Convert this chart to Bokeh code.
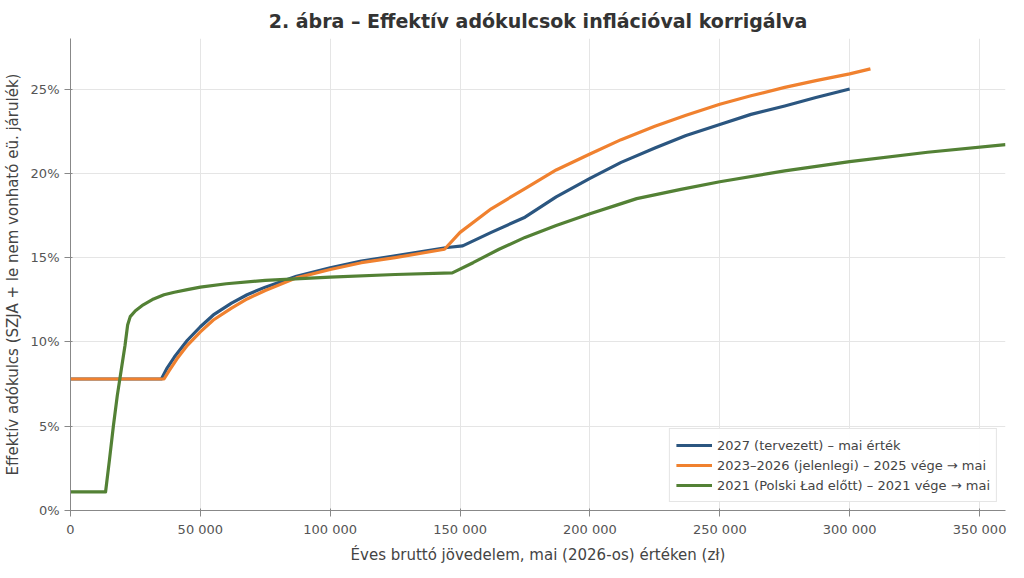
from bokeh.plotting import figure
from bokeh.models import CustomJSTickFormatter, Legend, FixedTicker
from bokeh.embed import file_html
from bokeh.resources import INLINE

blue_x = [0, 35000, 37000, 40000, 45000, 50000, 55000, 62000, 68000, 75000, 87000, 100000, 112000, 125000, 145000, 151000, 162000, 175000, 187000, 200000, 212000, 225000, 237000, 250000, 262000, 275000, 287000, 300000]
blue_y = [7.8, 7.8, 8.4, 9.1, 10.1, 10.9, 11.6, 12.3, 12.8, 13.25, 13.9, 14.4, 14.8, 15.1, 15.6, 15.7, 16.5, 17.4, 18.6, 19.7, 20.65, 21.5, 22.25, 22.9, 23.5, 24.0, 24.5, 25.0]
orange_x = [0, 36000, 38000, 41000, 45000, 50000, 55000, 62000, 68000, 75000, 87000, 100000, 112000, 125000, 144000, 150000, 162000, 175000, 187000, 200000, 212000, 225000, 237000, 250000, 262000, 275000, 287000, 300000, 308000]
orange_y = [7.8, 7.8, 8.3, 9.0, 9.8, 10.6, 11.3, 12.0, 12.55, 13.05, 13.8, 14.3, 14.7, 15.0, 15.5, 16.5, 17.9, 19.1, 20.2, 21.15, 22.0, 22.8, 23.45, 24.1, 24.6, 25.1, 25.5, 25.9, 26.2]
green_x = [0, 13500, 15000, 16500, 18000, 19500, 21000, 22000, 23000, 25000, 28000, 32000, 36000, 40000, 45000, 50000, 60000, 75000, 100000, 125000, 147000, 155000, 165000, 175000, 187000, 200000, 210000, 218000, 235000, 250000, 275000, 300000, 330000, 360000]
green_y = [1.1, 1.1, 3.0, 5.0, 6.8, 8.3, 9.8, 11.0, 11.5, 11.85, 12.2, 12.55, 12.8, 12.95, 13.1, 13.25, 13.45, 13.65, 13.85, 14.0, 14.1, 14.7, 15.5, 16.2, 16.9, 17.6, 18.1, 18.5, 19.05, 19.5, 20.15, 20.7, 21.25, 21.7]
labels = ["2027 (tervezett) – mai érték",
          "2023–2026 (jelenlegi) – 2025 vége → mai",
          "2021 (Polski Ład előtt) – 2021 vége → mai"]

p = figure(frame_width=935, frame_height=472, x_range=(0, 360000), y_range=(0, 28),
           output_backend="svg", toolbar_location=None,
           title="2. ábra – Effektív adókulcsok inflációval korrigálva")
p.title.align = "center"
p.title.text_font_size = "19px"
p.title.text_font = "DejaVu Sans"
p.title.text_color = "#333333"
p.title.standoff = 14
p.outline_line_color = None
p.min_border_left = 67
p.min_border_right = 6
p.min_border_top = 12
p.min_border_bottom = 0

lines = []
for xs, ys, c in [(blue_x, blue_y, "#2b5680"), (orange_x, orange_y, "#f0812f"), (green_x, green_y, "#538135")]:
    lines.append(p.line(xs, ys, line_color=c, line_width=3.2, line_join="round"))

leg = Legend(items=[(l, [r]) for l, r in zip(labels, lines)], location="bottom_right")
leg.label_text_font_size = "13px"
leg.label_text_font = "DejaVu Sans"
leg.border_line_color = "#cccccc"
leg.glyph_width = 36
leg.spacing = 0
leg.padding = 6
leg.margin = 8
p.add_layout(leg)

p.xaxis.ticker = FixedTicker(ticks=[0, 50000, 100000, 150000, 200000, 250000, 300000, 350000])
p.yaxis.ticker = FixedTicker(ticks=[0, 5, 10, 15, 20, 25])
p.xaxis.formatter = CustomJSTickFormatter(code="return tick==0?'0':(tick/1000).toFixed(0)+' 000';")
p.yaxis.formatter = CustomJSTickFormatter(code="return tick+'%';")
p.xaxis.axis_label = "Éves bruttó jövedelem, mai (2026-os) értéken (zł)"
p.yaxis.axis_label = "Effektív adókulcs (SZJA + le nem vonható eü. járulék)"
for ax in (p.xaxis, p.yaxis):
    ax.axis_label_text_font_style = "normal"
    ax.axis_label_text_font_size = "15px"
    ax.axis_label_text_font = "DejaVu Sans"
    ax.axis_label_standoff = 6
    ax.major_label_text_font_size = "13px"
    ax.major_label_text_font = "DejaVu Sans"
    ax.major_label_text_color = "#555555"
    ax.minor_tick_line_color = None
    ax.axis_line_color = "#888888"
    ax.major_tick_line_color = "#888888"
p.grid.grid_line_color = "#e5e5e5"

open("out.html", "w").write(file_html(p, INLINE))
